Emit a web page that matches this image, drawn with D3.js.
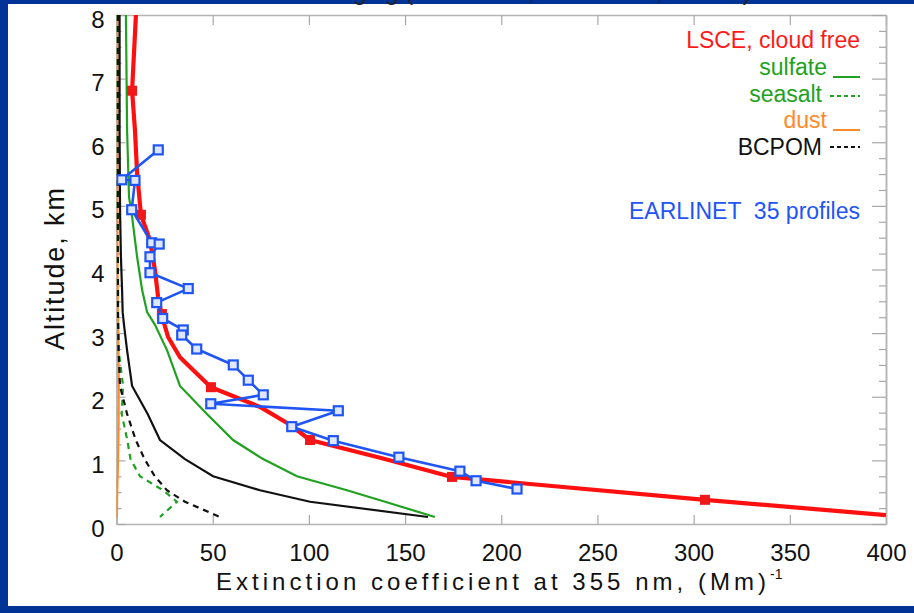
<!DOCTYPE html>
<html>
<head>
<meta charset="utf-8">
<script src="https://cdn.jsdelivr.net/npm/d3@7"></script>
<style>
  html, body { margin: 0; padding: 0; background: #013397; }
  svg { display: block; }
  text { font-family: "Liberation Sans", Arial, Helvetica, sans-serif; }
</style>
</head>
<body>
<svg id="chart" width="914" height="613"></svg>
<script>
// ---------------- DATA ----------------
// LSCE model, cloud free (red line, dense vertices)
const lsceAlt = [8.0, 6.81, 6.19, 5.52, 4.86, 4.46, 3.99, 3.57, 3.27, 2.94, 2.62, 2.42, 2.15, 1.84, 1.56, 1.32, 1.04, 0.74, 0.38, 0.14];
const lsceExt = [10.1, 8.1, 9.6, 10.7, 12.7, 17.4, 20.0, 21.6, 23.6, 26.8, 33.0, 39.8, 49.1, 74.6, 90.2, 100.6, 137.0, 174.4, 305.9, 400];
// LSCE square markers
const lsceMarkAlt = [6.81, 4.86, 3.30, 2.15, 1.32, 0.74, 0.38];
const lsceMarkExt = [8.1, 12.7, 23.6, 49.1, 100.6, 174.4, 305.9];

// Model levels for components
const modelAlt = [8.0, 6.19, 5.14, 4.83, 4.20, 3.68, 3.33, 3.13, 2.73, 2.17, 1.73, 1.32, 1.02, 0.75, 0.53, 0.35, 0.11];
const sulfate  = [4.9, 5.5, 6.5, 8.1, 10.7, 13.3, 15.9, 20.0, 26.3, 33.0, 47.0, 60.6, 76.2, 93.8, 119.8, 139.6, 165.5];
const blackSolid = [1.6, 1.6, 1.8, 1.9, 2.3, 2.9, 3.2, 3.9, 5.5, 8.1, 16.2, 22.6, 35.6, 50.2, 74.6, 100.6, 161.9];
const seasalt  = [0.4, 0.4, 0.4, 0.4, 0.5, 0.6, 0.7, 0.8, 1.1, 3.4, 2.7, 5.6, 7.3, 12.2, 24.2, 31.4, 22.6];
const dust     = [0.5, 0.5, 0.5, 0.5, 0.5, 0.6, 0.7, 0.8, 1.0, 1.2, 1.1, 1.0, 0.8, 0.6, 0.4, 0.3, 0.2];
const bcpom    = [0.7, 0.7, 0.7, 0.7, 0.7, 0.8, 0.8, 0.9, 1.1, 1.8, 5.5, 10.0, 14.6, 19.9, 26.2, 35.6, 53.8];

// EARLINET mean profile (blue, 35 profiles)
const earlAlt = [5.88, 5.41, 5.40, 4.94, 4.42, 4.40, 4.20, 3.95, 3.70, 3.48, 3.23, 3.05, 2.97, 2.75, 2.50, 2.26, 2.03, 1.89, 1.78, 1.53, 1.31, 1.05, 0.83, 0.68, 0.55];
const earlExt = [21.7, 2.7, 9.6, 7.9, 18.3, 22.2, 17.4, 17.4, 37.3, 20.9, 24.0, 34.7, 33.9, 41.7, 60.7, 68.5, 76.3, 49.0, 115.3, 91.1, 112.7, 146.8, 178.5, 186.9, 208.2];

const xTicks = [0, 50, 100, 150, 200, 250, 300, 350, 400];
const yTicks = [0, 1, 2, 3, 4, 5, 6, 7, 8];

const legendLabels = ["LSCE, cloud free", "sulfate", "seasalt", "dust", "BCPOM"];
const earlLabel = "EARLINET  35 profiles";
const xTitle = "Extinction coefficient at 355 nm, (Mm)";
const yTitle = "Altitude, km";
const topTitle = "Averaging (EARLINET, 2000-2003, 355nm)";

// ---------------- DRAW ----------------
const svg = d3.select("#chart");
const W = 914, H = 613;
const L = 116.5, R = 886, T = 15, B = 524;

// blue background + white panel
svg.append("rect").attr("width", W).attr("height", H).attr("fill", "#013397");
svg.append("rect").attr("x", 8).attr("y", 4).attr("width", W - 8).attr("height", 602).attr("fill", "#ffffff");

const x = d3.scaleLinear().domain([0, 400]).range([L, R]);
const y = d3.scaleLinear().domain([0, 8]).range([B, T]);

svg.append("defs").append("clipPath").attr("id", "clip")
  .append("rect").attr("x", L).attr("y", T).attr("width", R - L).attr("height", B - T);

const frameColor = "#b4b4b4";

// axes
const gx = svg.append("g").attr("transform", `translate(0,${B})`)
  .call(d3.axisBottom(x).tickValues(xTicks).tickFormat(d3.format("d")).tickSizeInner(-9).tickSizeOuter(0).tickPadding(20));
const gxTop = svg.append("g").attr("transform", `translate(0,${T})`)
  .call(d3.axisTop(x).tickValues(xTicks).tickFormat("").tickSizeInner(-10).tickSizeOuter(0));
const gy = svg.append("g").attr("transform", `translate(${L},0)`)
  .call(d3.axisLeft(y).tickValues(yTicks).tickFormat(d3.format("d")).tickSizeInner(-9).tickSizeOuter(0).tickPadding(12));
const gyR = svg.append("g").attr("transform", `translate(${R},0)`)
  .call(d3.axisRight(y).tickValues(yTicks).tickFormat("").tickSizeInner(-14).tickSizeOuter(0));
const minorVals = d3.range(0, 8.001, 0.25).filter(v => Math.abs(v - Math.round(v)) > 1e-6);
svg.append("g").attr("transform", `translate(${L},0)`)
  .call(d3.axisLeft(y).tickValues(minorVals).tickFormat("").tickSizeInner(-5).tickSizeOuter(0));
svg.append("g").attr("transform", `translate(${R},0)`)
  .call(d3.axisRight(y).tickValues(minorVals).tickFormat("").tickSizeInner(-7).tickSizeOuter(0));

svg.selectAll(".domain").attr("stroke", frameColor).attr("stroke-width", 1.5);
svg.selectAll(".tick line").attr("stroke", "#a8a8a8").attr("stroke-width", 1.2);
gx.selectAll(".tick text").attr("font-size", 24).attr("fill", "#111");
gy.selectAll(".tick text").attr("font-size", 24).attr("fill", "#111").attr("dy", "0.5em");

// axis titles
svg.append("text").attr("x", 216).attr("y", 590)
  .attr("font-size", 24).attr("fill", "#111")
  .attr("textLength", 550).attr("lengthAdjust", "spacing")
  .text(xTitle);
svg.append("text").attr("x", 770).attr("y", 579)
  .attr("font-size", 14).attr("fill", "#111").text("-1");
svg.append("text").attr("transform", "translate(64,269) rotate(-90)")
  .attr("text-anchor", "middle").attr("font-size", 27).attr("fill", "#111")
  .attr("textLength", 162).attr("lengthAdjust", "spacing")
  .text(yTitle);

// top (cut) title: only the descenders show below the top edge
svg.append("text").attr("x", 291).attr("y", 0).attr("font-size", 24).attr("fill", "#222").text(topTitle);

// lines
const plot = svg.append("g").attr("clip-path", "url(#clip)");
const line = d3.line().x(d => x(d[0])).y(d => y(d[1]));
const zipM = arr => arr.map((v, i) => [v, modelAlt[i]]);

plot.append("path").datum(zipM(dust)).attr("d", line)
  .attr("fill", "none").attr("stroke", "#ff8a2a").attr("stroke-width", 2.2);
plot.append("path").datum(zipM(seasalt)).attr("d", line)
  .attr("fill", "none").attr("stroke", "#21a121").attr("stroke-width", 2.2).attr("stroke-dasharray", "6,5");
plot.append("path").datum(zipM(bcpom)).attr("d", line)
  .attr("fill", "none").attr("stroke", "#111").attr("stroke-width", 2.2).attr("stroke-dasharray", "6,5");
plot.append("path").datum(zipM(blackSolid)).attr("d", line)
  .attr("fill", "none").attr("stroke", "#111").attr("stroke-width", 2.2);
plot.append("path").datum(zipM(sulfate)).attr("d", line)
  .attr("fill", "none").attr("stroke", "#21a121").attr("stroke-width", 2.2);

// LSCE red
plot.append("path").datum(lsceExt.map((v, i) => [v, lsceAlt[i]])).attr("d", line)
  .attr("fill", "none").attr("stroke", "#ff1010").attr("stroke-width", 4.2).attr("stroke-linejoin", "round");
plot.selectAll(".rsq").data(lsceMarkExt.map((v, i) => [v, lsceMarkAlt[i]])).enter()
  .append("rect").attr("class", "rsq")
  .attr("x", d => x(d[0]) - 5).attr("y", d => y(d[1]) - 5)
  .attr("width", 10).attr("height", 10).attr("fill", "#f01818");

// EARLINET blue
const earl = earlExt.map((v, i) => [v, earlAlt[i]]);
plot.append("path").datum(earl).attr("d", line)
  .attr("fill", "none").attr("stroke", "#1f55f5").attr("stroke-width", 2.6).attr("stroke-linejoin", "round");
plot.selectAll(".bsq").data(earl).enter()
  .append("rect").attr("class", "bsq")
  .attr("x", d => x(d[0]) - 4.5).attr("y", d => y(d[1]) - 4.5)
  .attr("width", 9).attr("height", 9)
  .attr("fill", "#dfe6ff").attr("stroke", "#1f55f5").attr("stroke-width", 2.2);

// legend
const lg = svg.append("g").attr("font-size", 23);
lg.append("text").attr("x", 860).attr("y", 48).attr("text-anchor", "end").attr("fill", "#ff1a1a").text(legendLabels[0]);
lg.append("text").attr("x", 827).attr("y", 75).attr("text-anchor", "end").attr("fill", "#21a121").text(legendLabels[1]);
lg.append("text").attr("x", 822).attr("y", 102).attr("text-anchor", "end").attr("fill", "#21a121").text(legendLabels[2]);
lg.append("text").attr("x", 827).attr("y", 128).attr("text-anchor", "end").attr("fill", "#ff8a2a").text(legendLabels[3]);
lg.append("text").attr("x", 822).attr("y", 155).attr("text-anchor", "end").attr("fill", "#111").text(legendLabels[4]);
lg.append("text").attr("x", 860).attr("y", 219).attr("text-anchor", "end").attr("fill", "#1f55f5")
  .style("white-space", "pre").text(earlLabel);

lg.append("line").attr("x1", 833).attr("x2", 860).attr("y1", 77).attr("y2", 77).attr("stroke", "#21a121").attr("stroke-width", 2);
lg.append("line").attr("x1", 830).attr("x2", 860).attr("y1", 96).attr("y2", 96).attr("stroke", "#21a121").attr("stroke-width", 2).attr("stroke-dasharray", "4,3");
lg.append("line").attr("x1", 833).attr("x2", 860).attr("y1", 130).attr("y2", 130).attr("stroke", "#ff8a2a").attr("stroke-width", 2);
lg.append("line").attr("x1", 830).attr("x2", 860).attr("y1", 147).attr("y2", 147).attr("stroke", "#111").attr("stroke-width", 2).attr("stroke-dasharray", "4,3");
</script>
</body>
</html>
